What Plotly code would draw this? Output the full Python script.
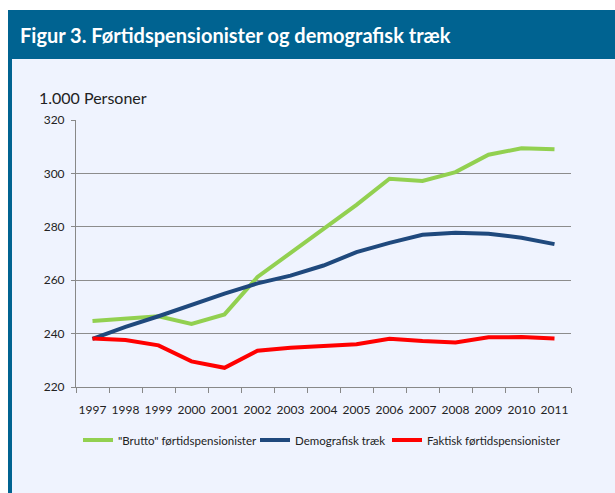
import plotly.graph_objects as go

years = [str(y) for y in range(1997, 2012)]
brutto = [244.7, 245.6, 246.5, 243.6, 247.2, 261.2, 270.2, 279.6, 288.2, 298.0, 297.2, 300.5, 307.0, 309.4, 309.0]
demografisk = [238.0, 242.5, 246.5, 250.8, 255.0, 258.8, 261.7, 265.5, 270.5, 274.0, 277.0, 277.8, 277.4, 275.9, 273.5]
faktisk = [238.2, 237.6, 235.6, 229.6, 227.2, 233.6, 234.7, 235.5, 236.0, 238.1, 237.2, 236.7, 238.6, 238.7, 238.2]

names = ['"Brutto" førtidspensionister', 'Demografisk træk', 'Faktisk førtidspensionister']
colors = ['#92D050', '#1F497D', '#FF0000']
legend_ids = ['legend', 'legend2', 'legend3']
legend_text_x = [118, 295, 427]

W, H = 615, 493
L, R, T, B = 76, 571, 120, 387
pw, ph = R - L, B - T

def px(x):
    return (x - L) / pw

def py(y):
    return (B - y) / ph

fig = go.Figure()
for n, vals, c, lg in zip(names, [brutto, demografisk, faktisk], colors, legend_ids):
    fig.add_trace(go.Scatter(x=years, y=vals, name=n, mode='lines', legend=lg,
                             line=dict(color=c, width=4)))

bg = '#EFF3FE'
band = '#006391'

legends = {}
for lg, tx in zip(legend_ids, legend_text_x):
    legends[lg] = dict(orientation='h', xref='container', x=(tx - 40) / W, xanchor='left',
                       y=py(440), yanchor='middle', font=dict(size=11.5),
                       bgcolor='rgba(0,0,0,0)', itemwidth=30)

fig.update_layout(
    width=W, height=H,
    margin=dict(l=L, r=W - R, t=T, b=H - B, pad=0, autoexpand=False),
    paper_bgcolor='white', plot_bgcolor=bg,
    font=dict(family='Lato, sans-serif', size=12, color='#222'),
    showlegend=True,
    **legends,
    xaxis=dict(type='category', tickson='boundaries', ticks='outside', ticklen=5,
               tickcolor='#888', showline=True, linecolor='#888', linewidth=1,
               showgrid=False, range=[-0.5, 14.5], tickangle=0, tickfont=dict(size=12),
               ticklabelstandoff=12, automargin=False),
    yaxis=dict(range=[220, 320], dtick=20, ticks='outside', ticklen=4, tickcolor='#888',
               showline=True, linecolor='#888', linewidth=1, showgrid=True,
               gridcolor='#8C8C8C', gridwidth=1, zeroline=False, tickfont=dict(size=12),
               ticklabelstandoff=4, automargin=False),
    shapes=[
        dict(type='rect', xref='paper', yref='paper', x0=px(12), x1=px(615), y0=py(493), y1=py(59),
             fillcolor=bg, line=dict(width=0), layer='below'),
        dict(type='rect', xref='paper', yref='paper', x0=px(8), x1=px(615), y0=py(59), y1=py(10),
             fillcolor=band, line=dict(width=0), layer='below'),
        dict(type='rect', xref='paper', yref='paper', x0=px(8), x1=px(12), y0=py(493), y1=py(59),
             fillcolor=band, line=dict(width=0), layer='below'),
    ],
    annotations=[
        dict(text='<b>Figur 3. Førtidspensionister og demografisk træk</b>', xref='paper', yref='paper',
             x=px(18), y=py(35), xanchor='left', yanchor='middle', showarrow=False,
             font=dict(size=20, color='white', family='Lato, sans-serif')),
        dict(text='1.000 Personer', xref='paper', yref='paper', x=px(37), y=py(97),
             xanchor='left', yanchor='middle', showarrow=False, font=dict(size=16)),
    ],
)
fig.write_html('out.html', config={'displayModeBar': False},
               post_script="document.body.style.margin='0';document.body.style.overflow='hidden';")
